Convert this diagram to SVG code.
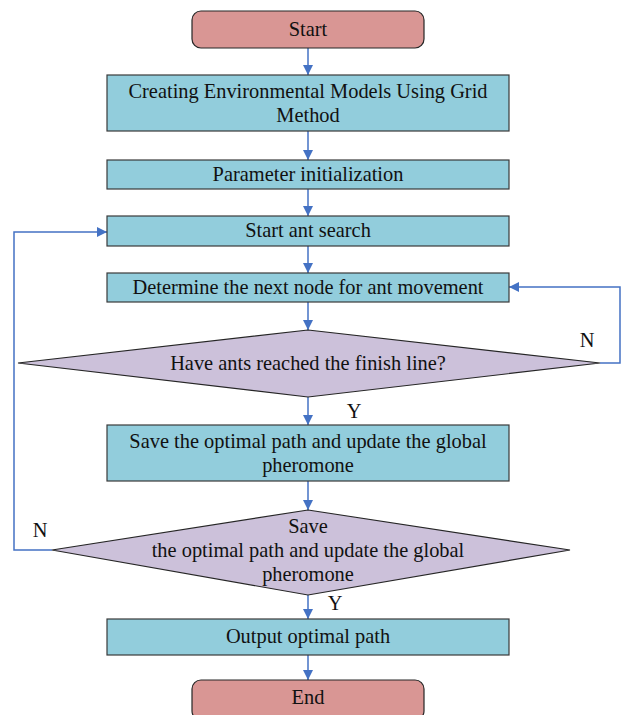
<svg xmlns="http://www.w3.org/2000/svg" width="622" height="715" viewBox="0 0 622 715">
<style>
.term{fill:#d99694;stroke:#262626;stroke-width:1.2}
.proc{fill:#92cddc;stroke:#3a3a3a;stroke-width:1.2}
.dec{fill:#ccc1da;stroke:#262626;stroke-width:1.2}
text{font-family:"Liberation Serif","Times New Roman",serif;font-size:20.4px;fill:#111;text-anchor:middle}
.c{fill:none;stroke:#4472c4;stroke-width:1.5}
</style>
<defs>
<marker id="ah" markerWidth="10" markerHeight="12" refX="10" refY="5" orient="auto" markerUnits="userSpaceOnUse">
<path d="M0,0 L10,5 L0,10 Z" fill="#4472c4"/>
</marker>
</defs>
<rect width="622" height="715" fill="#fff"/>
<g id="connectors">
<line class="c" x1="308" y1="48" x2="308" y2="75" marker-end="url(#ah)"/>
<line class="c" x1="308" y1="131" x2="308" y2="160" marker-end="url(#ah)"/>
<line class="c" x1="308" y1="189" x2="308" y2="216" marker-end="url(#ah)"/>
<line class="c" x1="308" y1="246" x2="308" y2="273" marker-end="url(#ah)"/>
<line class="c" x1="308" y1="302" x2="308" y2="330" marker-end="url(#ah)"/>
<line class="c" x1="308" y1="397" x2="308" y2="425" marker-end="url(#ah)"/>
<line class="c" x1="308" y1="481" x2="308" y2="510" marker-end="url(#ah)"/>
<line class="c" x1="308" y1="595" x2="308" y2="619" marker-end="url(#ah)"/>
<line class="c" x1="308" y1="655" x2="308" y2="680" marker-end="url(#ah)"/>
<polyline class="c" points="600,363 620,363 620,287 509,287" marker-end="url(#ah)"/>
<polyline class="c" points="52,550 14,550 14,232 107,232" marker-end="url(#ah)"/>
<text x="587" y="347">N</text>
<text x="354" y="418">Y</text>
<text x="40" y="537">N</text>
<text x="335" y="610">Y</text>
</g>
<g id="start"><rect class="term" x="192" y="11" width="232" height="37" rx="9"/><text x="308" y="36">Start</text></g>
<g id="env"><rect class="proc" x="107" y="75" width="402" height="56"/><text x="308" y="98">Creating Environmental Models Using Grid</text><text x="308" y="122">Method</text></g>
<g id="init"><rect class="proc" x="107" y="160" width="402" height="29"/><text x="308" y="181">Parameter initialization</text></g>
<g id="search"><rect class="proc" x="107" y="216" width="402" height="30"/><text x="308" y="237">Start ant search</text></g>
<g id="next"><rect class="proc" x="107" y="273" width="402" height="29"/><text x="308" y="294">Determine the next node for ant movement</text></g>
<g id="reached"><polygon class="dec" points="308,330 600,363 308,397 18,363"/><text x="308" y="370">Have ants reached the finish line?</text></g>
<g id="save"><rect class="proc" x="107" y="425" width="402" height="56"/><text x="308" y="448">Save the optimal path and update the global</text><text x="308" y="472">pheromone</text></g>
<g id="check"><polygon class="dec" points="308,510 570,550 308,595 52,550"/><text x="308" y="533">Save</text><text x="308" y="557">the optimal path and update the global</text><text x="308" y="581">pheromone</text></g>
<g id="output"><rect class="proc" x="107" y="619" width="402" height="36"/><text x="308" y="643">Output optimal path</text></g>
<g id="end"><rect class="term" x="192" y="680" width="232" height="40" rx="9"/><text x="308" y="704">End</text></g>
</svg>
